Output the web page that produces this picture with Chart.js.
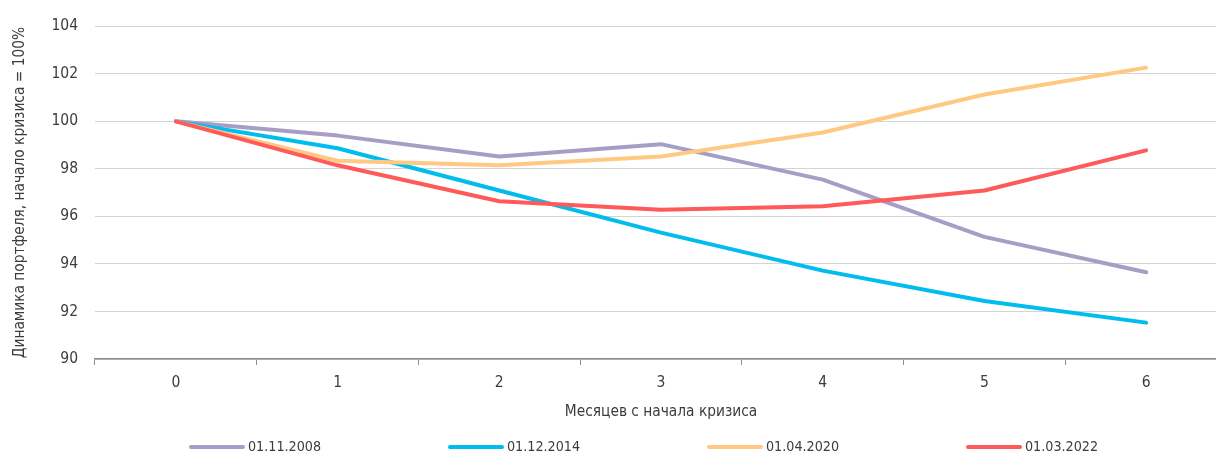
<!DOCTYPE html>
<html lang="ru">
<head>
<meta charset="utf-8">
<title>Динамика портфеля в кризисы</title>
<script src="https://cdn.jsdelivr.net/npm/chart.js@4/dist/chart.umd.min.js"></script>
<style>
  html, body { margin: 0; padding: 0; background: #ffffff; overflow: hidden; }
  #wrap { width: 1216px; height: 457px; overflow: hidden; position: relative; }
  canvas { display: block; }
</style>
</head>
<body>
<div id="wrap"><canvas id="chart" width="1227" height="457"></canvas></div>
<script>
// Months since the start of each crisis
const months = ['0', '1', '2', '3', '4', '5', '6'];

// Portfolio value, start of crisis = 100
const crisis2008 = [100, 99.40, 98.52, 99.04, 97.55, 95.14, 93.65];
const crisis2014 = [100, 98.87, 97.09, 95.32, 93.72, 92.44, 91.53];
const crisis2020 = [100, 98.34, 98.15, 98.52, 99.53, 101.13, 102.26];
const crisis2022 = [100, 98.15, 96.64, 96.28, 96.43, 97.09, 98.78];

const seriesLabels = ['01.11.2008', '01.12.2014', '01.04.2020', '01.03.2022'];
const seriesColors = ['#A79DC5', '#00BDEE', '#FFC983', '#FF5A5A'];

const yTitle = 'Динамика портфеля, начало кризиса = 100%';
const xTitle = 'Месяцев с начала кризиса';

const FONT = "'Liberation Sans Narrow', 'DejaVu Sans Condensed', 'Open Sans', sans-serif";
const TEXT = '#3c3c3c';
const TICK_SIZE = 15.5;
const TITLE_SIZE = 15.3;
const LEGEND_SIZE = 14.2;

// Legend row under the axis title: short line swatch + date label
const bottomLegend = {
  id: 'bottomLegend',
  afterDraw(chart) {
    const ctx = chart.ctx;
    ctx.save();
    chart.data.datasets.forEach((ds, i) => {
      const x0 = 191 + i * 259;
      const y = 447;
      ctx.beginPath();
      ctx.strokeStyle = ds.borderColor;
      ctx.lineWidth = 4;
      ctx.lineCap = 'round';
      ctx.moveTo(x0, y);
      ctx.lineTo(x0 + 52, y);
      ctx.stroke();
      ctx.fillStyle = TEXT;
      ctx.font = LEGEND_SIZE + 'px ' + FONT;
      ctx.textBaseline = 'middle';
      ctx.textAlign = 'left';
      ctx.fillText(ds.label, x0 + 57, y);
    });
    ctx.restore();
  }
};

const values = [crisis2008, crisis2014, crisis2020, crisis2022];

new Chart(document.getElementById('chart'), {
  type: 'line',
  data: {
    labels: months,
    datasets: values.map((v, i) => ({
      label: seriesLabels[i],
      data: v,
      borderColor: seriesColors[i],
      backgroundColor: seriesColors[i],
      borderWidth: 4,
      pointRadius: 0,
      tension: 0,
      borderJoinStyle: 'round',
      borderCapStyle: 'round',
      order: 3 - i
    }))
  },
  options: {
    responsive: false,
    animation: false,
    devicePixelRatio: 1,
    layout: { padding: { top: 23, right: 0, left: 0, bottom: 0 } },
    plugins: {
      legend: { display: false },
      tooltip: { enabled: false }
    },
    scales: {
      x: {
        type: 'category',
        offset: true,
        afterFit(scale) { scale.height = 98; },
        grid: {
          display: true,
          offset: true,
          drawOnChartArea: false,
          drawTicks: true,
          tickLength: 6,
          color: '#8c8c8c',
          lineWidth: 1
        },
        border: { display: true, color: '#8c8c8c', width: 1.5 },
        ticks: {
          color: TEXT,
          font: { family: FONT, size: TICK_SIZE },
          padding: 9,
          maxRotation: 0
        },
        title: {
          display: true,
          text: xTitle,
          color: TEXT,
          font: { family: FONT, size: TITLE_SIZE },
          padding: { top: 0, bottom: 36 }
        }
      },
      y: {
        min: 90,
        max: 104,
        afterFit(scale) { scale.width = 95; },
        ticks: {
          stepSize: 2,
          color: TEXT,
          font: { family: FONT, size: TICK_SIZE },
          padding: 17
        },
        grid: {
          color: '#d4d4d4',
          lineWidth: 1,
          drawTicks: false
        },
        border: { display: false },
        title: {
          display: true,
          text: yTitle,
          color: TEXT,
          font: { family: FONT, size: TITLE_SIZE },
          padding: { top: 11, bottom: 0 }
        }
      }
    }
  },
  plugins: [bottomLegend]
});
</script>
</body>
</html>
